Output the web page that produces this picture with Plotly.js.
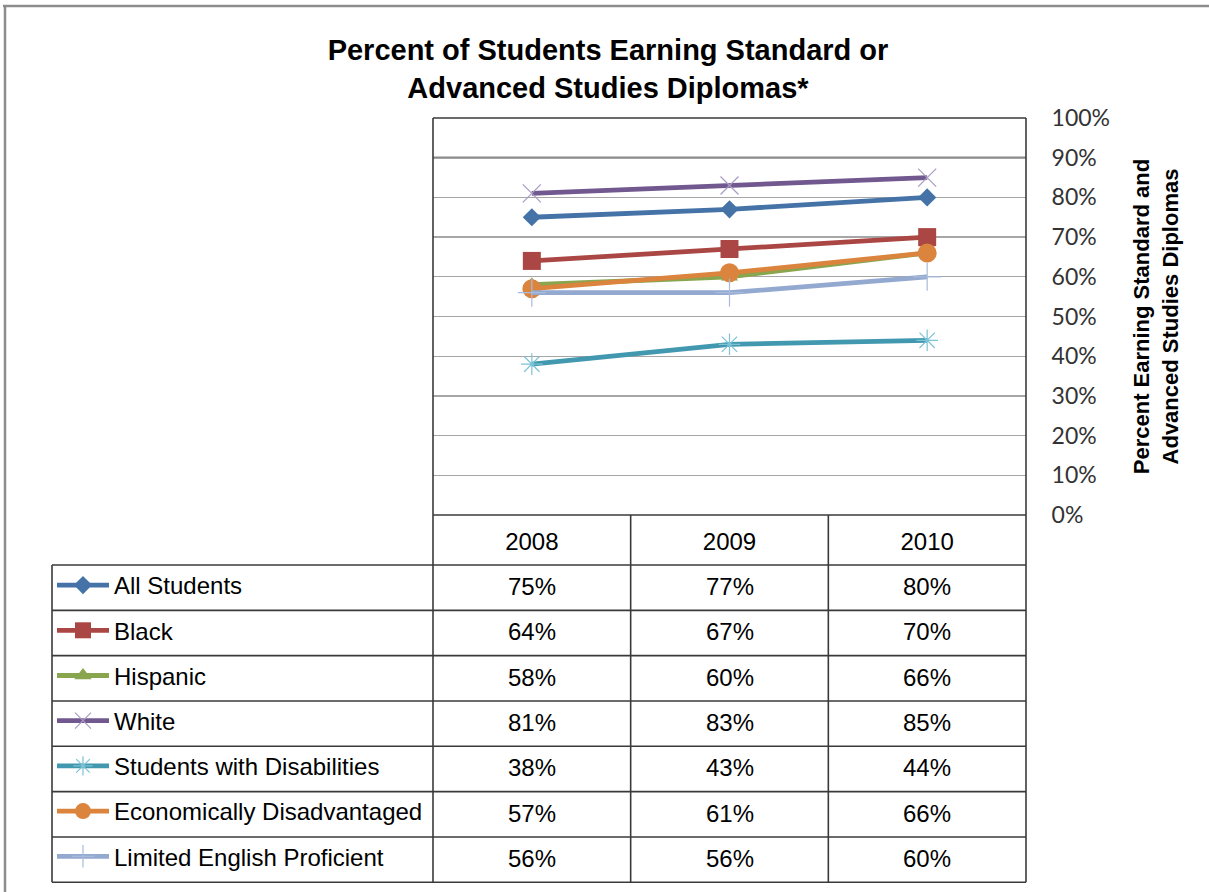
<!DOCTYPE html>
<html>
<head>
<meta charset="utf-8">
<script src="https://cdn.plot.ly/plotly-3.0.1.min.js"></script>
<style>
html,body{margin:0;padding:0;background:#fff;}
#chart{width:1209px;height:892px;}
</style>
</head>
<body>
<div id="chart"></div>
<script>
// ---- data ----
const years = ['2008', '2009', '2010'];
const seriesNames = ['All Students', 'Black', 'Hispanic', 'White', 'Students with Disabilities', 'Economically Disadvantaged', 'Limited English Proficient'];
const allStudents = [75, 77, 80];
const black = [64, 67, 70];
const hispanic = [58, 60, 66];
const white = [81, 83, 85];
const studentsWithDisabilities = [38, 43, 44];
const economicallyDisadvantaged = [57, 61, 66];
const limitedEnglishProficient = [56, 56, 60];
const seriesValues = [allStudents, black, hispanic, white, studentsWithDisabilities, economicallyDisadvantaged, limitedEnglishProficient];
const yTicks = [0, 10, 20, 30, 40, 50, 60, 70, 80, 90, 100];
const PCT = '\u0025';
const yTickText = yTicks.map(v => v + PCT);

// ---- style ----
const lineColors = ['#4572A7', '#AA4643', '#89A54E', '#71588F', '#4198AF', '#DB843D', '#93A9CF'];
const markerStyles = [
  {symbol: 'diamond', size: 14, color: '#4572A7'},
  {symbol: 'square', size: 18, color: '#AA4643'},
  {symbol: 'triangle-up', size: 15, color: '#89A54E'},
  {symbol: 'x-thin-open', size: 18, color: '#A99BC4', line: {color: '#A99BC4', width: 1.2}},
  {symbol: 'asterisk-open', size: 18, color: '#7CC3D6', line: {color: '#7CC3D6', width: 1.2}},
  {symbol: 'circle', size: 19, color: '#DB843D'},
  {symbol: 'cross-thin-open', size: 20, color: '#A9BBDC', line: {color: '#A9BBDC', width: 1.2}}
];

// plot area pixel geometry
const W = 1209, H = 892;
const L = 433, R = 1026, T = 118, B = 515;
const px2x = p => (p - L) / (R - L);
const py2y = p => (B - p) / (B - T);
const rowTop = 565, rowH = 45.33;
const tableBottom = rowTop + rowH * seriesNames.length;

const traces = seriesNames.map((name, i) => ({
  type: 'scatter',
  mode: 'lines+markers',
  name: name,
  legendgroup: 'g' + i,
  x: years,
  y: seriesValues[i],
  line: {color: lineColors[i], width: 4.8},
  marker: markerStyles[i],
  cliponaxis: false
}));

const lineCol = '#3a3a3a';
const shapes = [];
function hline(py, x0, x1, color, w) {
  shapes.push({type: 'line', xref: 'paper', yref: 'paper', x0: px2x(x0), x1: px2x(x1), y0: py2y(py), y1: py2y(py), line: {color: color, width: w}});
}
function vline(px, y0, y1, color, w) {
  shapes.push({type: 'line', xref: 'paper', yref: 'paper', x0: px2x(px), x1: px2x(px), y0: py2y(y0), y1: py2y(y1), line: {color: color, width: w}});
}
// darker 90% gridline
shapes.push({type: 'line', xref: 'paper', yref: 'y', x0: 0, x1: 1, y0: 90, y1: 90, line: {color: '#8a8a8a', width: 2.2}});
// plot frame / table
hline(T, L, R, lineCol, 1.6);
hline(B, L, R, lineCol, 1.6);
for (let i = 0; i <= seriesNames.length; i++) hline(rowTop + rowH * i, 52, R, lineCol, 1.6);
vline(L, T, tableBottom, lineCol, 1.6);
vline(R, T, tableBottom, lineCol, 1.6);
vline(52, rowTop, tableBottom, lineCol, 1.6);
for (let j = 1; j < years.length; j++) {
  const px = L + (R - L) * j / years.length;
  vline(px, B, tableBottom, lineCol, 1.6);
}
// outer chart border (top and left)
hline(6, 3, W + 5, '#8c8c8c', 2.5);
vline(5, 5, H + 5, '#8c8c8c', 2.5);

// data table values (positioned on the category x axis)
const annotations = [];
seriesValues.forEach((vals, i) => {
  vals.forEach((v, j) => {
    annotations.push({
      xref: 'x', yref: 'paper', x: j, y: py2y(rowTop + rowH * (i + 0.5) - 1),
      text: String(v) + PCT, showarrow: false, xanchor: 'center', yanchor: 'middle',
      font: {family: 'Liberation Sans, Arial, sans-serif', size: 24, color: '#000'}
    });
  });
});

const layout = {
  width: W, height: H,
  margin: {l: L, r: W - R, t: T, b: H - B, pad: 0},
  paper_bgcolor: '#fff', plot_bgcolor: '#fff',
  showlegend: true,
  title: {
    text: 'Percent of Students Earning Standard or<br>Advanced Studies Diplomas*',
    font: {family: 'Liberation Sans, Arial, sans-serif', size: 29, color: '#000', weight: 'bold'},
    xref: 'paper', x: px2x(608), xanchor: 'center',
    yref: 'container', y: 1 - 60 / H, yanchor: 'middle'
  },
  xaxis: {
    type: 'category', range: [-0.5, 2.5], fixedrange: true,
    showgrid: false, zeroline: false, showline: false,
    ticks: 'outside', ticklen: 5, tickcolor: 'rgba(0,0,0,0)',
    tickfont: {family: 'Liberation Sans, Arial, sans-serif', size: 24, color: '#000'}
  },
  yaxis: {
    side: 'right', range: [0, 100], tickvals: yTicks, ticktext: yTickText,
    showgrid: true, gridcolor: '#a6a6a6', gridwidth: 1.4, zeroline: false, showline: false,
    ticks: 'outside', ticklen: 20, tickcolor: 'rgba(0,0,0,0)',
    tickfont: {family: 'Lato, Liberation Sans, sans-serif', size: 23, color: '#333'},
    title: {
      text: 'Percent Earning Standard and<br>Advanced Studies Diplomas',
      font: {family: 'Liberation Sans, Arial, sans-serif', size: 22, color: '#000', weight: 'bold'},
      standoff: 24
    }
  },
  legend: {
    x: px2x(52), xanchor: 'left', y: py2y(rowTop - 2), yanchor: 'top',
    bgcolor: 'rgba(0,0,0,0)', borderwidth: 0,
    traceorder: 'grouped', tracegroupgap: 11, itemwidth: 52,
    font: {family: 'Liberation Sans, Arial, sans-serif', size: 24, color: '#000'}
  },
  shapes: shapes,
  annotations: annotations
};

Plotly.newPlot('chart', traces, layout, {displayModeBar: false, staticPlot: true});
</script>
</body>
</html>
